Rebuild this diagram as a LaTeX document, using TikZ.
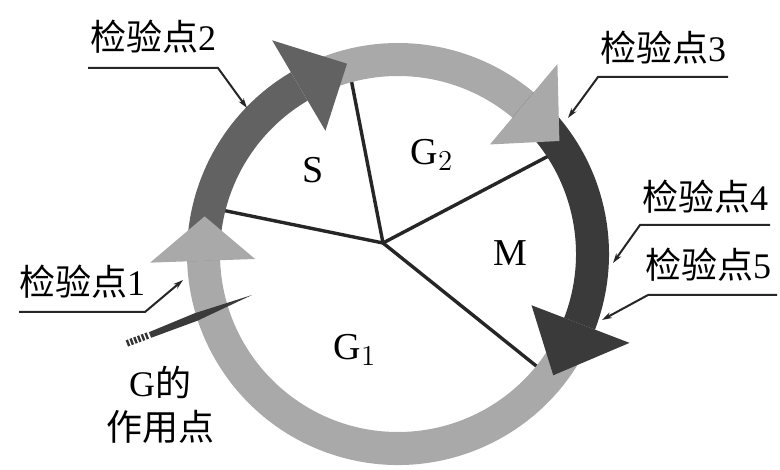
\documentclass[tikz,border=0pt]{standalone}
\usepackage{fontspec}
\setmainfont{Liberation Serif}
\newfontfamily\cjk{Noto Sans CJK SC}
\usetikzlibrary{arrows.meta, calc}
\definecolor{cyclelight}{HTML}{A9A9A9}
\definecolor{cyclemid}{HTML}{626262}
\definecolor{cycledark}{HTML}{3A3A3A}

\begin{document}
\begin{tikzpicture}[x=0.5pt, y=0.5pt,
  phase/.style={font=\fontsize{19}{22}\selectfont},
  chk/.style={font=\fontsize{18}{22}\selectfont, align=center, inner sep=0pt},
  lead/.style={-{Stealth[length=5pt, width=3pt]}, line width=1pt, draw=black!85},
  spoke/.style={line width=1.7pt, draw=black!85}]
  \useasboundingbox (0,0) rectangle (780,470);

  % cell cycle ring, centre of ring at (398,216)
  \begin{scope}[shift={(398,216)}]
    \coordinate (o) at (-15,11);
    \foreach \ang/\nm in {166/s1, 105/s2, 33/s3, -39/s4}
      \coordinate (\nm) at (\ang:182);
    \foreach \nm in {s1, s2, s3, s4}
      \draw[spoke] (o) -- (\nm);
    % bands
    \foreach \from/\to/\col in {-21/-178/cyclelight, 182/120.5/cyclemid,
        120.5/50/cyclelight, 50/-21/cycledark}
      \fill[\col] (\from:211) arc[start angle=\from, end angle=\to, radius=211]
        -- (\to:178) arc[start angle=\to, end angle=\from, radius=178] -- cycle;
    % arrow heads
    \foreach \base/\tip/\col in {182/169/cyclelight, 120.5/105/cyclemid,
        50/35/cyclelight, -21/-38/cycledark}
      \fill[\col] (\base:143) -- (\base:248) -- (\tip:197) -- cycle;
  \end{scope}

  \node[phase] (ps) at (313,300) {S};
  \node[phase] (pg2) at (432,315) {G$_2$};
  \node[phase] (pm) at (510,217) {M};
  \node[phase] (pg1) at (355,120) {G$_1$};

  % check points
  \node[chk] (chk2) at (153,433) {{\cjk 检验点}2};
  \node[chk] (chk3) at (663,422) {{\cjk 检验点}3};
  \node[chk] (chk4) at (705,273) {{\cjk 检验点}4};
  \node[chk] (chk5) at (708,205) {{\cjk 检验点}5};
  \node[chk] (chk1) at (82,188) {{\cjk 检验点}1};
  \node[chk] (gact) at (160,65) {G{\cjk 的}\\{\cjk 作用点}};

  \coordinate (u2) at (88,402);  \coordinate (e2) at (218,402); \coordinate (t2) at (247,362);
  \coordinate (u3) at (728,393); \coordinate (e3) at (598,393); \coordinate (t3) at (568,352);
  \coordinate (u4) at (770,245); \coordinate (e4) at (640,245); \coordinate (t4) at (613,207);
  \coordinate (u5) at (777,175); \coordinate (e5) at (648,175); \coordinate (t5) at (602,150);
  \coordinate (u1) at (19,158);  \coordinate (e1) at (145,158); \coordinate (t1) at (183,190);
  \foreach \i in {1,...,5}
    \draw[lead] (u\i) -- (e\i) -- (t\i);

  % pointer for G
  \fill[cycledark] (148.9,137.8) -- (194.5,156.7) -- (252,175) -- (197.5,149.3)
    -- (151.1,132.2) -- cycle;
  \foreach \t in {0,4,...,20}
    \draw[line width=1.2pt, black!80] ($(128,127)+(0.937*\t,0.35*\t)+(-1.2,3.1)$)
      -- ($(128,127)+(0.937*\t,0.35*\t)+(1.2,-3.1)$);
\end{tikzpicture}
\end{document}
